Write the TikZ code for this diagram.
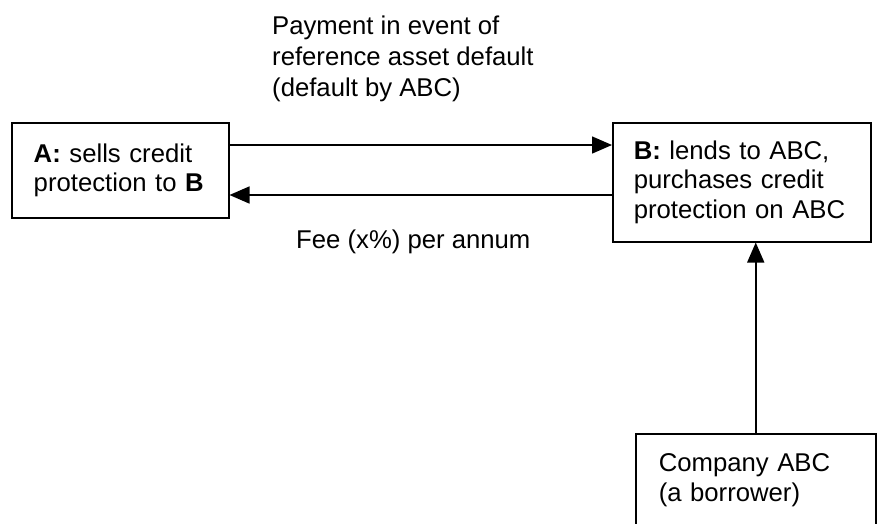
\documentclass[tikz,border=0pt]{standalone}
\usepackage{fontspec}
\setmainfont{Liberation Sans}
\usetikzlibrary{arrows.meta}
\begin{document}
\begin{tikzpicture}[x=1pt,y=-1pt,
  font=\fontsize{25.7}{29.6}\selectfont,
  box/.style={draw, line width=1.5pt, rectangle, anchor=north west,
              align=left, inner ysep=0pt},
  lbl/.style={inner sep=0pt, align=left},
  arr/.style={line width=1.5pt, -{Triangle[length=20pt,width=17pt]}}]
\useasboundingbox (0,0) rectangle (887,523);
\clip (0,0) rectangle (887,523);

% parties (the trailing space lifts the text a little inside its frame)
\node[box, inner xsep=22pt, text width=173pt, minimum height=95pt] (A) at (11,122)
  {\textbf{A:} sells credit\\protection to \textbf{B}\par\vspace{8pt}};
\node[box, inner xsep=21pt, text width=216pt, minimum height=119pt] (B) at (612,122)
  {\textbf{B:} lends to ABC,\\purchases credit\\protection on ABC\par\vspace{6pt}};
\node[box, inner xsep=23pt, text width=194pt, minimum height=93pt] (C) at (635,433)
  {Company ABC\\(a borrower)};

% flows between A and B
\draw[arr] ([yshift=-23pt]A.north east) -- ([yshift=-23pt]B.north west);
\draw[arr] ([yshift=-73pt]B.north west) -- ([yshift=-73pt]A.north east);
\draw[arr] (C.north) -- (C.north |- B.south);

% labels
\node[lbl, anchor=north west, font=\fontsize{25.7}{31}\selectfont] (pay) at (272,16)
  {Payment in event of\\reference asset default\\(default by ABC)};
\node[lbl, anchor=base west] (fee) at (296,248) {Fee (x\%) per annum};
\end{tikzpicture}
\end{document}
